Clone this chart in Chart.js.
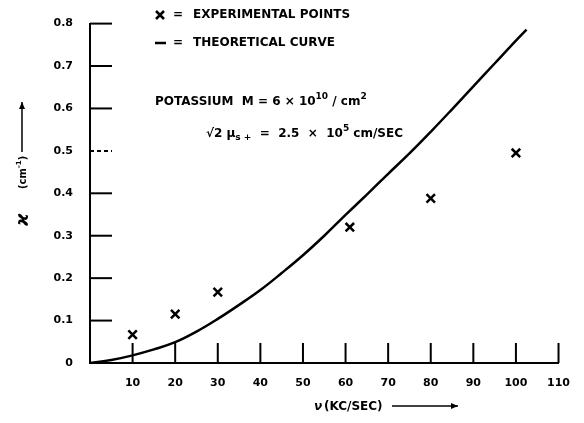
<!DOCTYPE html>
<html>
<head>
<meta charset="utf-8">
<script src="https://cdn.jsdelivr.net/npm/chart.js@4/dist/chart.umd.min.js"></script>
<style>
  html, body { margin: 0; padding: 0; background: #fff; }
  #wrap { width: 584px; height: 423px; }
</style>
</head>
<body>
<div id="wrap"><canvas id="myChart" width="584" height="423"></canvas></div>
<script>
// experimental points (frequency in kc/sec, kappa in cm^-1)
const freqExp = [10, 20, 30, 61, 80, 100];
const kappaExp = [0.067, 0.115, 0.167, 0.32, 0.388, 0.495];

// theoretical curve
const freqTheory = [0, 5, 10, 15, 20, 25, 30, 35, 40, 45, 50, 55, 60, 65, 70, 75, 80, 85, 90, 95, 100, 102.5];
const kappaTheory = [0, 0.007, 0.018, 0.032, 0.049, 0.074, 0.104, 0.137, 0.172, 0.212, 0.254, 0.3, 0.349, 0.397, 0.446, 0.494, 0.545, 0.598, 0.652, 0.706, 0.76, 0.786];

const xTicks = [10, 20, 30, 40, 50, 60, 70, 80, 90, 100, 110];
const yTicks = [0.1, 0.2, 0.3, 0.4, 0.5, 0.6, 0.7, 0.8];

const FONT = '"DejaVu Sans", sans-serif';

function drawRuns(ctx, x, y, runs, size) {
    size = size || 12;
    runs.forEach(r => {
        ctx.font = 'bold ' + (r.small ? size - 3 : size) + 'px ' + FONT;
        let dy = 0;
        if (r.sup) dy = -size / 2;
        if (r.sub) dy = 3;
        ctx.fillText(r.t, x, y + dy);
        x += ctx.measureText(r.t).width;
    });
    return x;
}

function arrow(ctx, x1, y1, x2, y2) {
    ctx.beginPath();
    ctx.moveTo(x1, y1);
    ctx.lineTo(x2, y2);
    ctx.stroke();
    const a = Math.atan2(y2 - y1, x2 - x1);
    ctx.beginPath();
    ctx.moveTo(x2, y2);
    ctx.lineTo(x2 - 7 * Math.cos(a) + 3 * Math.sin(a), y2 - 7 * Math.sin(a) - 3 * Math.cos(a));
    ctx.lineTo(x2 - 7 * Math.cos(a) - 3 * Math.sin(a), y2 - 7 * Math.sin(a) + 3 * Math.cos(a));
    ctx.closePath();
    ctx.fill();
}

const extras = {
    id: 'extras',
    afterDraw(chart) {
        const ctx = chart.ctx;
        const xs = chart.scales.x;
        const ys = chart.scales.y;
        ctx.save();
        ctx.strokeStyle = '#000';
        ctx.fillStyle = '#000';
        ctx.lineWidth = 2;

        // inward tick marks
        yTicks.forEach(v => {
            const py = ys.getPixelForValue(v);
            if (v === 0.5) ctx.setLineDash([4, 3]); else ctx.setLineDash([]);
            ctx.beginPath();
            ctx.moveTo(xs.left, py);
            ctx.lineTo(xs.left + 22, py);
            ctx.stroke();
        });
        ctx.setLineDash([]);
        xTicks.forEach(v => {
            const px = xs.getPixelForValue(v);
            ctx.beginPath();
            ctx.moveTo(px, ys.bottom);
            ctx.lineTo(px, ys.bottom - 20);
            ctx.stroke();
        });

        // legend
        ctx.textBaseline = 'middle';
        ctx.textAlign = 'left';
        ctx.lineWidth = 2.5;
        ctx.beginPath();
        ctx.moveTo(156, 11); ctx.lineTo(164, 19);
        ctx.moveTo(164, 11); ctx.lineTo(156, 19);
        ctx.moveTo(155, 43); ctx.lineTo(166, 43);
        ctx.stroke();
        drawRuns(ctx, 173, 15, [{ t: '=' }]);
        drawRuns(ctx, 193, 15, [{ t: 'EXPERIMENTAL POINTS' }]);
        drawRuns(ctx, 173, 43, [{ t: '=' }]);
        drawRuns(ctx, 193, 43, [{ t: 'THEORETICAL CURVE' }]);

        // parameters
        ctx.textBaseline = 'alphabetic';
        drawRuns(ctx, 155, 105, [
            { t: 'POTASSIUM  M = 6 × 10' }, { t: '10', small: true, sup: true },
            { t: ' / cm' }, { t: '2', small: true, sup: true }
        ]);
        drawRuns(ctx, 206, 137, [
            { t: '√2 μ' }, { t: 's +', small: true, sub: true },
            { t: '  =  2.5  ×  10' }, { t: '5', small: true, sup: true }, { t: ' cm/SEC' }
        ]);

        // x axis title
        ctx.font = 'bold italic 12px ' + FONT;
        ctx.fillText('ν', 314, 410);
        drawRuns(ctx, 324, 410, [{ t: '(KC/SEC)' }]);
        ctx.lineWidth = 1.5;
        arrow(ctx, 392, 406, 458, 406);

        // y axis title (rotated)
        ctx.save();
        ctx.translate(28, 226);
        ctx.rotate(-Math.PI / 2);
        ctx.font = 'bold italic 17px ' + FONT;
        ctx.fillText('ϰ', 0, 0);
        drawRuns(ctx, 37, -2, [{ t: '(cm' }, { t: '-1', small: true, sup: true }, { t: ')' }], 10);
        arrow(ctx, 74, -6, 124, -6);
        ctx.restore();

        ctx.restore();
    }
};

const ctx = document.getElementById('myChart').getContext('2d');
const myChart = new Chart(ctx, {
    type: 'scatter',
    data: {
        datasets: [{
            label: 'Experimental points',
            data: freqExp.map((f, i) => ({ x: f, y: kappaExp[i] })),
            pointStyle: 'crossRot',
            pointRadius: 6,
            pointBorderWidth: 2.5,
            borderColor: '#000',
            backgroundColor: '#000'
        }, {
            label: 'Theoretical curve',
            data: freqTheory.map((f, i) => ({ x: f, y: kappaTheory[i] })),
            showLine: true,
            pointRadius: 0,
            borderColor: '#000',
            borderWidth: 2.5,
            tension: 0.4
        }]
    },
    options: {
        responsive: false,
        animation: false,
        devicePixelRatio: 1,
        layout: { padding: { left: 0, right: 14, top: 11, bottom: 0 } },
        plugins: { legend: { display: false }, tooltip: { enabled: false } },
        scales: {
            x: {
                type: 'linear',
                min: 0,
                max: 110,
                afterFit: s => { s.height = 60; },
                grid: { display: false, drawTicks: false },
                border: { display: true, color: '#000', width: 2 },
                ticks: {
                    stepSize: 10,
                    padding: 14,
                    color: '#000',
                    font: { family: FONT, size: 11, weight: 'bold' },
                    callback: v => v === 0 ? '' : v
                }
            },
            y: {
                min: 0,
                max: 0.8,
                afterFit: s => { s.width = 90; },
                grid: { display: false, drawTicks: false },
                border: { display: true, color: '#000', width: 2 },
                ticks: {
                    stepSize: 0.1,
                    padding: 17,
                    color: '#000',
                    font: { family: FONT, size: 11, weight: 'bold' },
                    callback: v => v === 0 ? '0' : v.toFixed(1)
                }
            }
        }
    },
    plugins: [extras]
});
</script>
</body>
</html>
